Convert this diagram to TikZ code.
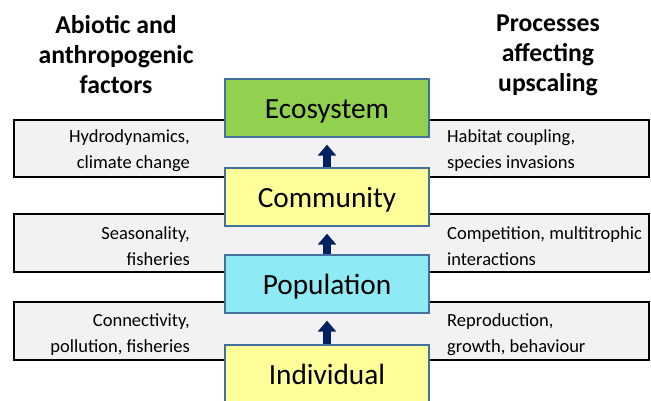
\documentclass[tikz,border=0pt]{standalone}
\usepackage{fontspec}
\setmainfont{Carlito}
\usetikzlibrary{arrows.meta}
\definecolor{ecogreen}{HTML}{92D050}
\definecolor{paleyellow}{HTML}{FFFF99}
\definecolor{paleblue}{HTML}{8EEAF4}
\definecolor{boxborder}{HTML}{41719C}
\definecolor{bandfill}{HTML}{F2F2F2}
\definecolor{navy}{HTML}{002060}
\begin{document}
\begin{tikzpicture}[x=1pt,y=-1pt,
  band/.style={draw=black,line width=1.5pt,fill=bandfill},
  level/.style={draw=boxborder,line width=1.3pt,minimum width=204pt,minimum height=58pt,inner sep=0pt,text height=21pt,text depth=0pt,font=\fontsize{29.3}{32}\selectfont},
  lefttxt/.style={anchor=east,align=right,inner sep=0pt,font=\fontsize{18.5}{26}\selectfont},
  righttxt/.style={anchor=west,align=left,inner sep=0pt,font=\fontsize{18.5}{26}\selectfont},
  header/.style={align=center,inner sep=0pt,font=\fontsize{25.7}{30}\selectfont\bfseries},
  up/.style={draw=navy,line width=8pt,-{Triangle[width=18pt,length=11pt]},shorten >=7pt}]
\useasboundingbox (0,0) rectangle (651,400);
\clip (0,0) rectangle (651,400);
% bands
\path[band] (14,120) rectangle (649,177);
\path[band] (14,214) rectangle (649,272);
\path[band] (14,302) rectangle (649,360);
% headers
\node[header] (hl) at (116,55) {Abiotic and\\anthropogenic\\factors};
\node[header] (hr) at (548,55) {Processes\\affecting\\upscaling};
% level boxes
\node[level,fill=ecogreen] (eco) at (327,108) {Ecosystem};
\node[level,fill=paleyellow] (com) at (327,197) {Community};
\node[level,fill=paleblue] (pop) at (327,284) {Population};
\node[level,fill=paleyellow] (ind) at (327,374) {Individual};
% arrows
\draw[up] (com.north) -- (eco.south);
\draw[up] (pop.north) -- (com.south);
\draw[up] (ind.north) -- (pop.south);
% left texts
\node[lefttxt] (l1) at (190,151) {Hydrodynamics,\\climate change};
\node[lefttxt] (l2) at (190,246) {Seasonality,\\fisheries};
\node[lefttxt] (l3) at (190,335) {Connectivity,\\pollution, fisheries};
% right texts
\node[righttxt] (r1) at (447,151) {Habitat coupling,\\species invasions};
\node[righttxt] (r2) at (447,246) {Competition, multitrophic\\interactions};
\node[righttxt] (r3) at (447,335) {Reproduction,\\growth, behaviour};
\end{tikzpicture}
\end{document}
